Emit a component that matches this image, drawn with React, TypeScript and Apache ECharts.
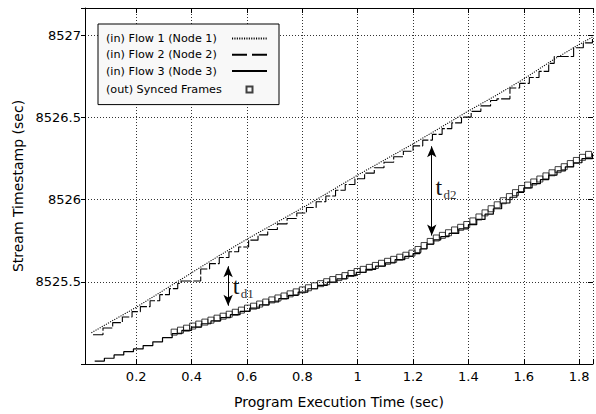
import React, { useEffect, useRef } from 'react';
import * as echarts from 'echarts';

// ---- data ----
const X_MIN = 0.015;
const X_MAX = 1.85;
const Y_MIN = 8525;
const Y_MAX = 8527.167;

const seriesNames = ['(in) Flow 1 (Node 1)', '(in) Flow 2 (Node 2)', '(in) Flow 3 (Node 3)', '(out) Synced Frames'];

const flow1X = [0.038, 0.1, 0.2, 0.3, 0.4, 0.5, 0.6, 0.7, 0.8, 0.9, 1.0, 1.1, 1.2, 1.3, 1.4, 1.5, 1.6, 1.7, 1.8, 1.848];
const flow1Y = [8525.19, 8525.25, 8525.345, 8525.45, 8525.555, 8525.66, 8525.76, 8525.855, 8525.95, 8526.05, 8526.15, 8526.245, 8526.34, 8526.44, 8526.54, 8526.635, 8526.735, 8526.845, 8526.945, 8526.99];

const flow2X = [0.044, 0.08, 0.115, 0.15, 0.185, 0.215, 0.25, 0.285, 0.32, 0.35, 0.362, 0.433, 0.465, 0.5, 0.535, 0.57, 0.606, 0.64, 0.675, 0.71, 0.745, 0.78, 0.815, 0.85, 0.885, 0.92, 0.955, 0.99, 1.025, 1.06, 1.095, 1.13, 1.165, 1.2, 1.235, 1.27, 1.305, 1.34, 1.375, 1.41, 1.445, 1.48, 1.503, 1.55, 1.585, 1.62, 1.655, 1.69, 1.71, 1.78, 1.815, 1.848];
const flow2Y = [8525.178, 8525.219, 8525.252, 8525.286, 8525.319, 8525.349, 8525.385, 8525.422, 8525.459, 8525.49, 8525.505, 8525.578, 8525.611, 8525.648, 8525.683, 8525.712, 8525.754, 8525.786, 8525.819, 8525.853, 8525.886, 8525.919, 8525.953, 8525.988, 8526.023, 8526.058, 8526.093, 8526.128, 8526.162, 8526.195, 8526.228, 8526.262, 8526.295, 8526.328, 8526.363, 8526.398, 8526.433, 8526.468, 8526.503, 8526.538, 8526.571, 8526.604, 8526.614, 8526.68, 8526.708, 8526.744, 8526.781, 8526.83, 8526.872, 8526.925, 8526.955, 8526.978];

const flow3X = [0.05, 0.085, 0.12, 0.155, 0.19, 0.225, 0.26, 0.295, 0.33, 0.365, 0.4, 0.435, 0.47, 0.505, 0.54, 0.575, 0.61, 0.645, 0.68, 0.715, 0.75, 0.785, 0.82, 0.855, 0.89, 0.925, 0.96, 0.995, 1.03, 1.065, 1.1, 1.135, 1.17, 1.2, 1.225, 1.25, 1.275, 1.3, 1.33, 1.365, 1.4, 1.43, 1.46, 1.49, 1.52, 1.55, 1.575, 1.6, 1.63, 1.66, 1.69, 1.72, 1.75, 1.78, 1.81, 1.848];
const flow3Y = [8525.018, 8525.035, 8525.055, 8525.075, 8525.092, 8525.112, 8525.135, 8525.16, 8525.185, 8525.205, 8525.225, 8525.245, 8525.262, 8525.282, 8525.3, 8525.32, 8525.34, 8525.36, 8525.378, 8525.398, 8525.418, 8525.438, 8525.458, 8525.478, 8525.498, 8525.518, 8525.538, 8525.558, 8525.576, 8525.596, 8525.615, 8525.635, 8525.655, 8525.672, 8525.7, 8525.73, 8525.755, 8525.775, 8525.795, 8525.822, 8525.848, 8525.88, 8525.912, 8525.945, 8525.98, 8526.015, 8526.045, 8526.072, 8526.098, 8526.122, 8526.15, 8526.175, 8526.2, 8526.225, 8526.25, 8526.283];

const syncX = [0.337, 0.36, 0.382, 0.404, 0.426, 0.448, 0.47, 0.492, 0.514, 0.536, 0.558, 0.58, 0.602, 0.624, 0.646, 0.668, 0.69, 0.712, 0.734, 0.756, 0.778, 0.8, 0.822, 0.844, 0.866, 0.888, 0.91, 0.932, 0.954, 0.976, 0.998, 1.02, 1.042, 1.064, 1.086, 1.108, 1.13, 1.152, 1.174, 1.196, 1.218, 1.24, 1.262, 1.284, 1.306, 1.328, 1.35, 1.372, 1.394, 1.416, 1.438, 1.46, 1.482, 1.504, 1.526, 1.548, 1.57, 1.592, 1.614, 1.636, 1.658, 1.68, 1.702, 1.724, 1.746, 1.768, 1.79, 1.812, 1.834];
const syncY = [8525.194, 8525.206, 8525.218, 8525.231, 8525.243, 8525.255, 8525.267, 8525.279, 8525.291, 8525.303, 8525.315, 8525.328, 8525.34, 8525.352, 8525.365, 8525.377, 8525.39, 8525.402, 8525.414, 8525.427, 8525.439, 8525.451, 8525.464, 8525.476, 8525.489, 8525.501, 8525.514, 8525.526, 8525.538, 8525.551, 8525.563, 8525.576, 8525.588, 8525.6, 8525.613, 8525.625, 8525.637, 8525.65, 8525.662, 8525.675, 8525.697, 8525.721, 8525.746, 8525.767, 8525.783, 8525.799, 8525.816, 8525.832, 8525.849, 8525.871, 8525.895, 8525.92, 8525.945, 8525.969, 8525.994, 8526.019, 8526.043, 8526.068, 8526.089, 8526.108, 8526.126, 8526.145, 8526.164, 8526.183, 8526.201, 8526.22, 8526.239, 8526.258, 8526.276];

// delay annotations (data coordinates)
const td1X = 0.532;
const td1Top = 8525.595;
const td1Bottom = 8525.355;
const td2X = 1.2675;
const td2Top = 8526.325;
const td2Bottom = 8525.782;
const td1Label = [0.549, 8525.476];
const td2Label = [1.281, 8526.078];

const FONT = 'DejaVu Sans';

const zip = (xs: number[], ys: number[]) => xs.map((x, i) => [x, ys[i]]);

export default function App() {
  const ref = useRef<HTMLDivElement>(null);

  useEffect(() => {
    document.body.style.margin = '0';
    const chart = echarts.init(ref.current!, null, { renderer: 'svg' });

    const xFmt = (v: number) => {
      const r = Math.round(v * 5) / 5;
      return Math.abs(v - r) < 1e-6 && r > 0.1 ? String(r) : '';
    };
    const yFmt = (v: number) => {
      const r = Math.round(v * 2) / 2;
      return Math.abs(v - r) < 1e-6 && r > 8525.2 ? String(r) : '';
    };
    const gridLine = { show: true, lineStyle: { color: '#333', width: 1, type: [1, 2] as any } };
    const axisLine = { show: true, onZero: false, lineStyle: { color: '#000', width: 1 } };
    const hiddenSym = { color: 'rgba(0,0,0,0)', borderColor: 'rgba(0,0,0,0)', borderWidth: 0 };

    const option: any = {
      animation: false,
      backgroundColor: '#fff',
      grid: { left: 85, top: 8, width: 512, height: 359, containLabel: false },
      xAxis: [
        {
          type: 'value', position: 'bottom', min: X_MIN, max: X_MAX, splitNumber: 9,
          axisLine,
          axisTick: { show: true, inside: true, length: 5, lineStyle: { color: '#000' } },
          axisLabel: { formatter: xFmt, color: '#000', fontFamily: FONT, fontSize: 13, margin: 6 },
          splitLine: gridLine,
          name: 'Program Execution Time (sec)', nameLocation: 'middle', nameGap: 31,
          nameTextStyle: { fontFamily: FONT, fontSize: 14, color: '#000' },
        },
        {
          type: 'value', position: 'top', min: X_MIN, max: X_MAX, splitNumber: 9,
          axisLine,
          axisTick: { show: true, inside: true, length: 5, lineStyle: { color: '#000' } },
          axisLabel: { show: false },
          splitLine: { show: false },
        },
      ],
      yAxis: [
        {
          type: 'value', position: 'left', min: Y_MIN, max: Y_MAX, interval: 0.5,
          axisLine,
          axisTick: { show: true, inside: false, length: 4, lineStyle: { color: '#000' } },
          axisLabel: { formatter: yFmt, color: '#000', fontFamily: FONT, fontSize: 13, margin: 4 },
          splitLine: gridLine,
          name: 'Stream Timestamp (sec)', nameLocation: 'middle', nameGap: 54, nameRotate: 90,
          nameTextStyle: { fontFamily: FONT, fontSize: 14, color: '#000' },
        },
        {
          type: 'value', position: 'right', min: Y_MIN, max: Y_MAX, interval: 0.5,
          axisLine: { show: false },
          axisTick: { show: true, inside: true, length: 5, lineStyle: { color: '#000' } },
          axisLabel: { show: false },
          splitLine: { show: false },
        },
      ],
      legend: {
        orient: 'vertical', left: 98, top: 24, align: 'right',
        itemWidth: 35, itemHeight: 14, itemGap: 5,
        padding: [9, 11, 7, 8],
        backgroundColor: '#f8f8f8', borderColor: '#000', borderWidth: 1, borderRadius: 0,
        selectedMode: false,
        formatter: (name: string) => `{a|${name}}`,
        textStyle: {
          fontFamily: FONT, fontSize: 11, color: '#000',
          rich: { a: { width: 121, align: 'left', fontFamily: FONT, fontSize: 11.2, color: '#000' } },
        },
        data: [
          { name: seriesNames[0], itemStyle: hiddenSym },
          { name: seriesNames[1], itemStyle: hiddenSym, lineStyle: { type: [15, 5] } },
          { name: seriesNames[2], itemStyle: hiddenSym },
          { name: seriesNames[3], icon: 'path://M0,0M14,14M4,4L10,4L10,10L4,10Z' },
        ],
      },
      series: [
        {
          name: seriesNames[0], type: 'line', data: zip(flow1X, flow1Y), symbol: 'none', silent: true,
          lineStyle: { color: '#000', width: 1.1, type: [1.1, 1.3] },
          itemStyle: { color: '#000' }, z: 3,
          markLine: {
            silent: true, symbol: ['arrow', 'arrow'], symbolSize: [7, 11],
            label: { show: false },
            lineStyle: { color: '#000', width: 1, type: 'solid' },
            itemStyle: { color: '#000' },
            emphasis: { disabled: true },
            data: [
              [{ coord: [td1X, td1Top] }, { coord: [td1X, td1Bottom] }],
              [{ coord: [td2X, td2Top] }, { coord: [td2X, td2Bottom] }],
            ],
          },
        },
        {
          name: seriesNames[1], type: 'line', step: 'end', data: zip(flow2X, flow2Y), symbol: 'none', silent: true,
          lineStyle: { color: '#000', width: 1.1, type: [12, 2] },
          itemStyle: { color: '#000' }, z: 3,
        },
        {
          name: seriesNames[2], type: 'line', step: 'end', data: zip(flow3X, flow3Y), symbol: 'none', silent: true,
          lineStyle: { color: '#000', width: 1.2, type: 'solid' },
          itemStyle: { color: '#000' }, z: 3,
        },
        {
          name: seriesNames[3], type: 'scatter', data: zip(syncX, syncY), symbol: 'rect', symbolSize: 6, silent: true,
          itemStyle: { color: 'rgba(255,255,255,0)', borderColor: '#111', borderWidth: 1 }, z: 5,
        },
      ],
    };

    chart.setOption(option);

    const p1 = chart.convertToPixel({ xAxisIndex: 0, yAxisIndex: 0 }, td1Label) as number[];
    const p2 = chart.convertToPixel({ xAxisIndex: 0, yAxisIndex: 0 }, td2Label) as number[];
    const mk = (p: number[], sub: string) => [
      { type: 'text', x: p[0], y: p[1], silent: true, style: { text: 't', fontFamily: 'Liberation Serif', fontSize: 24, fill: '#111', align: 'left', verticalAlign: 'middle' } },
      { type: 'text', x: p[0] + 8, y: p[1] + 7.5, silent: true, style: { text: sub, fontFamily: 'Liberation Serif', fontSize: 13, fill: '#333', align: 'left', verticalAlign: 'middle' } },
    ];
    chart.setOption({ graphic: [...mk(p1, 'd1'), ...mk(p2, 'd2')] });

    return () => chart.dispose();
  }, []);

  return <div ref={ref} style={{ width: 596, height: 414 }} />;
}
